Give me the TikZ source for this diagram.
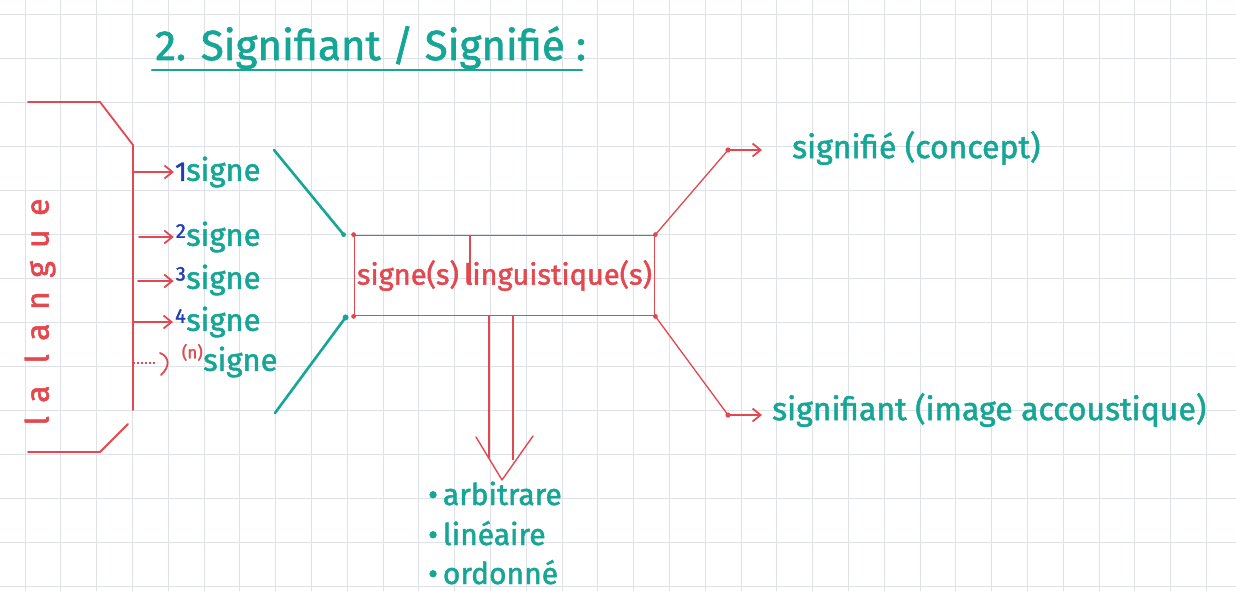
\documentclass[tikz,border=0pt]{standalone}
\usepackage{fontspec}
\setmainfont{Fira Sans}
\newfontfamily\ink{Fira Sans}[FakeBold=1.6]
\usetikzlibrary{arrows.meta}
\definecolor{teal1}{RGB}{22,166,150}
\definecolor{red1}{RGB}{226,72,78}
\definecolor{blue1}{RGB}{35,60,185}
\definecolor{grid1}{RGB}{222,224,234}
\tikzset{
  redline/.style={draw=red1, line width=1.8pt, line cap=round, line join=round},
  tealline/.style={draw=teal1, line width=2.6pt, line cap=round},
  redarrow/.style={redline, -{Straight Barb[length=8pt,width=13pt,line width=1.8pt]}},
  signetxt/.style={text=teal1, font=\ink\fontsize{31}{34}\selectfont, anchor=west, inner sep=0pt},
  suptxt/.style={font=\ink\fontsize{20}{21}\selectfont, anchor=south east, inner sep=0pt},
  bigtxt/.style={text=teal1, font=\ink\fontsize{32}{34}\selectfont, anchor=west, inner sep=0pt},
  listtxt/.style={text=teal1, font=\ink\fontsize{30}{33}\selectfont, anchor=base west, inner sep=0pt},
}
\begin{document}
\begin{tikzpicture}[x=1pt,y=-1pt]
\useasboundingbox (0,0) rectangle (1236,591);
\fill[white] (0,0) rectangle (1236,591);
% paper grid
\foreach \k in {0,...,34} {\draw[grid1, line width=0.8pt] (25+35.8*\k,0) -- (25+35.8*\k,591);}
\foreach \k in {0,...,13} {\draw[grid1, line width=0.8pt] (0,14.7+44*\k) -- (1236,14.7+44*\k);}

% title
\node[text=teal1, font=\ink\fontsize{42}{44}\selectfont, anchor=base west, inner sep=0pt] (title) at (155,60) {2. Signifiant / Signifié :};
\draw[teal1, line width=2.6pt, line cap=round] (152,70) -- (582,70);

% bracket "la langue"
\coordinate (bt1) at (28,102);
\coordinate (bt2) at (100,102);
\coordinate (bt3) at (133,145);
\coordinate (bb0) at (133,410);
\coordinate (bb1) at (128,424);
\coordinate (bb2) at (100,452);
\coordinate (bb3) at (28,452);
\draw[redline] (bt1) -- (bt2) -- (bt3) -- (bb0);
\draw[redline] (bb1) -- (bb2) -- (bb3);
\node[rotate=90, text=red1, font=\ink\fontsize{32}{34}\selectfont\addfontfeatures{LetterSpace=42}, inner sep=0pt] (langue) at (40,312) {la langue};

% signes
\node[signetxt] (s1) at (186,172) {signe};
\node[signetxt] (s2) at (186,237) {signe};
\node[signetxt] (s3) at (186,280) {signe};
\node[signetxt] (s4) at (186,322) {signe};
\node[signetxt] (s5) at (203,362) {signe};
\node[suptxt, text=blue1, font=\ink\fontsize{27}{28}\selectfont] (n1) at (187,181) {1};
\node[suptxt, text=blue1] (n2) at (186,238) {2};
\node[suptxt, text=blue1] (n3) at (186,281) {3};
\node[suptxt, text=blue1] (n4) at (186,323) {4};
\node[suptxt, text=red1, font=\ink\fontsize{17}{18}\selectfont] (n5) at (203,361) {(n)};

\coordinate (a1) at (133,172);
\coordinate (a2) at (139,237);
\coordinate (a3) at (138,281);
\coordinate (a4) at (133,322);
\coordinate (a5) at (133,363);
\draw[redarrow] (a1) -- ([xshift=-1pt]n1.south west |- a1);
\draw[redarrow] (a2) -- ([xshift=-2pt]n2.south west |- a2);
\draw[redarrow] (a3) -- ([xshift=-2pt]n3.south west |- a3);
\draw[redarrow] (a4) -- ([xshift=-2pt]n4.south west |- a4);
\draw[red1, line width=1.8pt, dash pattern=on 2pt off 2pt] (a5) -- (157,363);
\draw[red1, line width=1.8pt, line cap=round] (160,353) .. controls (170,357) and (170,367) .. (161,375);

% central box
\node[draw=red1, line width=1.8pt, minimum width=300pt, minimum height=80pt, inner sep=0pt,
      text=red1, font=\ink\fontsize{29}{31}\selectfont] (box) at (504.5,275.5) {signe(s)\hspace{5pt}linguistique(s)};
\draw[redline] (470,235.5) -- (470,284);

% teal connectors
\coordinate (t1) at (274,150);
\coordinate (t2) at (275,413);
\draw[tealline] (t1) -- ([xshift=-10pt]box.north west);
\draw[tealline] (t2) -- ([xshift=-8pt,yshift=-1pt]box.south west);
\fill[teal1] ([xshift=-8pt,yshift=-1pt]box.south west) circle (3pt);
\fill[teal1] ([xshift=-10pt]box.north west) circle (2.4pt);
\fill[red1] (box.north west) circle (2.4pt);
\fill[red1] (box.south west) circle (2.4pt);
\fill[red1] (box.north east) circle (2.4pt);
\fill[red1] (box.south east) circle (2.4pt);

% right branches
\node[bigtxt] (sig) at (792,148) {signifié (concept)};
\node[bigtxt] (sigt) at (772,410) {signifiant (image accoustique)};
\coordinate (r1) at (728,150);
\coordinate (r2) at (728,415);
\draw[red1, line width=1.3pt] (box.north east) -- (r1);
\draw[red1, line width=1.3pt] (box.south east) -- (r2);
\fill[red1] (r1) circle (2.6pt);
\fill[red1] (r2) circle (2.6pt);
\draw[redarrow] (r1) -- ([xshift=-30pt]sig.west |- r1);
\draw[redarrow] (r2) -- ([xshift=-10pt]sigt.west |- r2);

% double arrow down
\coordinate (tip) at (502,480);
\draw[red1, line width=1.4pt] (489,315.5) -- (489,458);
\draw[red1, line width=1.4pt] (513,315.5) -- (513,460);
\draw[red1, line width=1.4pt, line cap=round, line join=round] (476,437) -- (tip) -- (533,436);

% properties list
\node[listtxt] (l1) at (428,505) {\textbullet\,arbitrare};
\node[listtxt] (l2) at (428,545) {\textbullet\,linéaire};
\node[listtxt] (l3) at (428,584) {\textbullet\,ordonné};
\end{tikzpicture}
\end{document}
